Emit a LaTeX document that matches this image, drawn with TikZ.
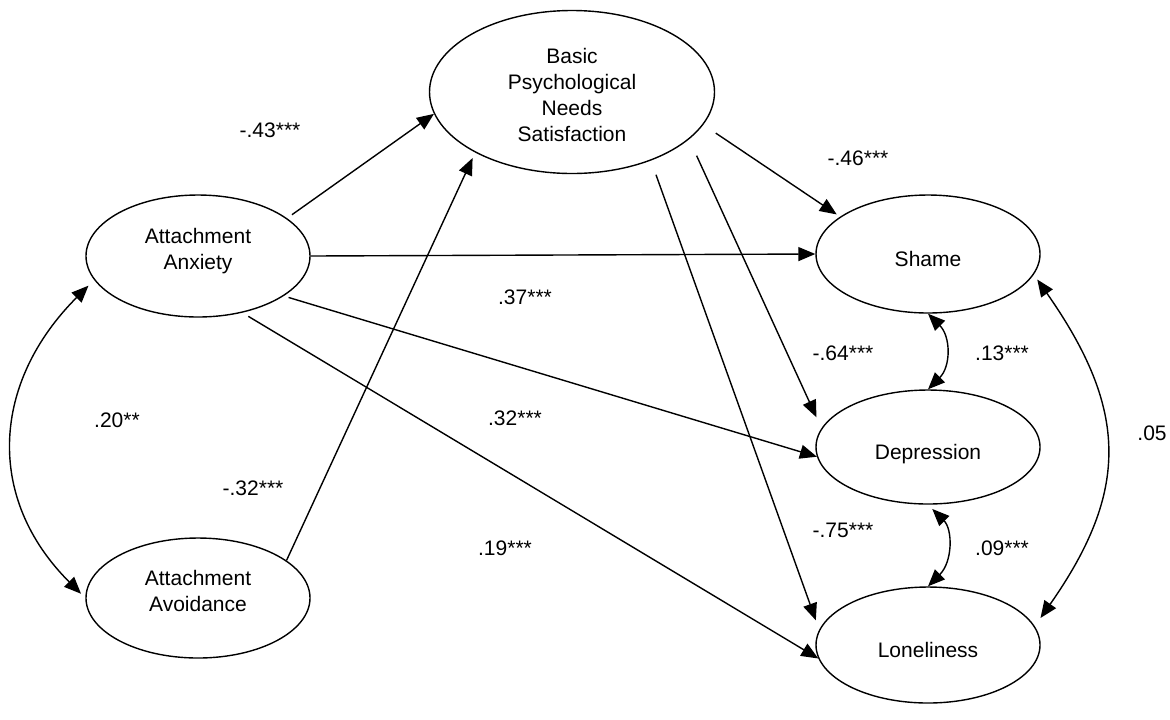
\documentclass[tikz,border=0pt]{standalone}
\usepackage{fontspec}
\setmainfont{Liberation Sans}
\usetikzlibrary{shapes.geometric,arrows.meta}

\tikzset{
  latent/.style={draw, ellipse, inner sep=0pt, align=center, minimum width=112pt, minimum height=59pt},
  outcome/.style={latent, text height=12pt, text depth=0pt},
  coef/.style={inner sep=0pt},
}

\begin{document}
\begin{tikzpicture}[x=0.5pt, y=0.5pt, line width=0.7pt, >={Triangle[length=8.5pt,width=7pt]}, font=\fontsize{10.5}{13}\selectfont]
  \useasboundingbox (0,0) rectangle (1170,-719);

  % Latent variables
  \node[latent, minimum height=61pt] (anx) at (198,-256) {Attachment\\Anxiety\rule[-7.5pt]{0pt}{0pt}};
  \node[latent, minimum height=60pt] (avo) at (198,-598) {Attachment\\Avoidance\rule[-7.5pt]{0pt}{0pt}};
  \node[latent, minimum width=142.5pt, minimum height=81.5pt] (bpns) at (572,-92) {\rule{0pt}{10.7pt}Basic\\Psychological\\Needs\\Satisfaction};
  \node[outcome] (shame) at (928,-254) {Shame};
  \node[outcome, minimum height=57pt] (dep) at (928,-447) {Depression};
  \node[outcome, minimum height=58pt] (lone) at (928,-645) {Loneliness};

  % Paths from attachment
  \draw[->, shorten <=3pt] (anx.23.5) -- (bpns.189);
  \draw[->] (anx.east) -- (shame.west);
  \draw[->, shorten <=2.5pt] (anx.-25) -- (dep.185);
  \draw[->, shorten <=3.5pt] (anx.-52) -- (lone.187);
  \draw[->, shorten >=3pt] (avo.23) -- (bpns.212);

  % Paths from need satisfaction
  \draw[->, shorten <=7.5pt, shorten >=2pt] (bpns.-14) -- (shame.157);
  \draw[->, shorten <=9pt, shorten >=6pt] (bpns.-22) -- (dep.170);
  \draw[->, shorten <=7.5pt, shorten >=5pt] (bpns.-41.5) -- (lone.172);

  % Correlations
  \draw[<->, shorten <=4pt, shorten >=3pt] (anx.193) to[out=225, in=135, looseness=1.15] (avo.180);
  \draw[<->] (shame.south) to[out=-45, in=45, looseness=1.1] (dep.north);
  \draw[<->, shorten <=3pt] (dep.south) to[out=-45, in=45, looseness=1.1] (lone.north);
  \draw[<->, shorten <=3pt, shorten >=5pt] (shame.-11) to[out=-55, in=55, looseness=1.2] (lone.10);

  % Coefficients
  \node[coef] (c43) at (270,-130) {-.43***};
  \node[coef] (c37) at (525,-297) {.37***};
  \node[coef] (c32) at (515,-418) {.32***};
  \node[coef] (c19) at (505,-548) {.19***};
  \node[coef] (c32b) at (253,-488) {-.32***};
  \node[coef] (c20) at (117,-420) {.20**};
  \node[coef] (c46) at (858,-158) {-.46***};
  \node[coef] (c64) at (843,-353) {-.64***};
  \node[coef] (c13) at (1002,-353) {.13***};
  \node[coef] (c75) at (843,-530) {-.75***};
  \node[coef] (c09) at (1002,-548) {.09***};
  \node[coef] (c05) at (1152,-433) {.05};
\end{tikzpicture}
\end{document}
